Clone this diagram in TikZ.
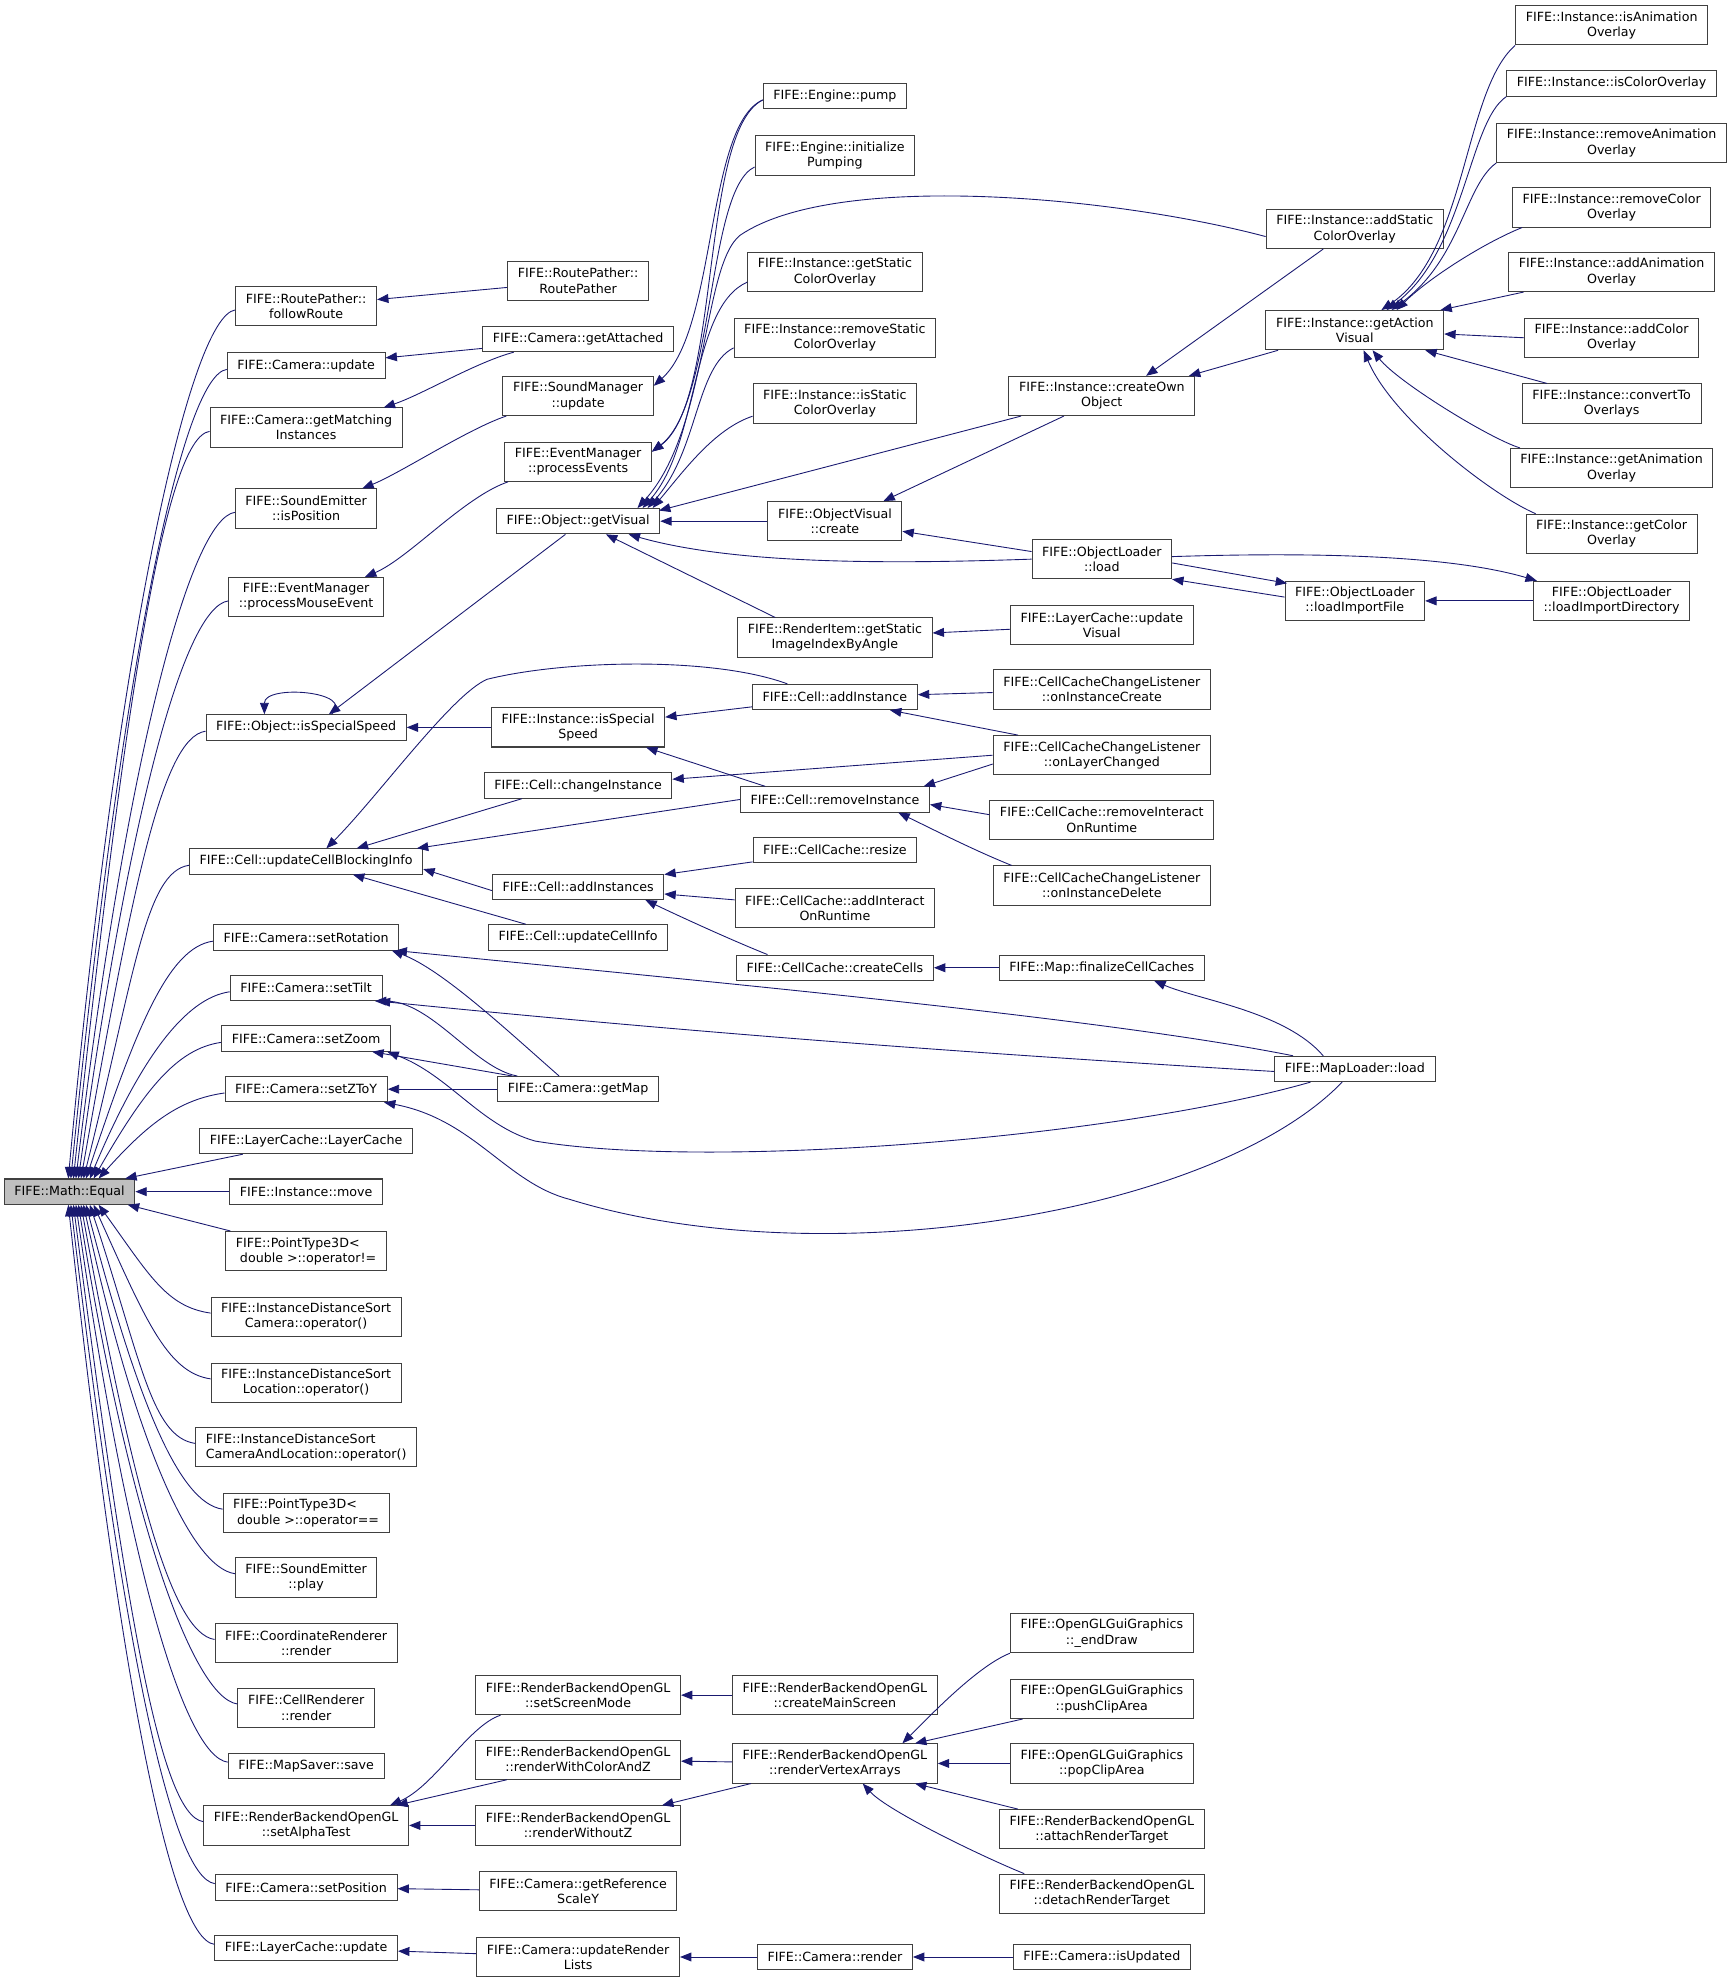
\documentclass[tikz,border=0pt]{standalone}
\usepackage{fontspec}
\setmainfont{DejaVu Sans}
\usetikzlibrary{arrows.meta}
\definecolor{edgeblue}{HTML}{191970}
\tikzset{
  fn/.style={draw=black!75, line width=0.8pt, fill=white, rectangle, inner xsep=8pt, inner ysep=3pt,
    minimum height=20pt, align=center, font=\fontsize{10}{12}\selectfont},
  tw/.style={fn, minimum height=31pt},
  twl/.style={tw, align=left},
  hl/.style={fn, fill=black!25},
  calledge/.style={draw=edgeblue, line width=0.7pt, -{Triangle[length=9pt,width=7pt]}},
}
\begin{document}
\begin{tikzpicture}[x=1pt,y=-1pt]
\useasboundingbox (0,0) rectangle (1370,1566);
% ---------- column 1
\node[hl] (Equal) at (55,942) {FIFE::Math::Equal};
% ---------- column 2
\node[tw] (followRoute) at (242,242) {FIFE::RoutePather::\\followRoute};
\node[fn] (camUpdate) at (242,289) {FIFE::Camera::update};
\node[tw] (getMatching) at (242,338) {FIFE::Camera::getMatching\\Instances};
\node[tw] (sePos) at (242,402) {FIFE::SoundEmitter\\::isPosition};
\node[tw] (emMouse) at (242,472) {FIFE::EventManager\\::processMouseEvent};
\node[fn] (isSpecialSpeed) at (242,575) {FIFE::Object::isSpecialSpeed};
\node[fn] (updateCellBlocking) at (242,681) {FIFE::Cell::updateCellBlockingInfo};
\node[fn] (setRotation) at (242,741) {FIFE::Camera::setRotation};
\node[fn] (setTilt) at (242,781) {FIFE::Camera::setTilt};
\node[fn] (setZoom) at (242,821) {FIFE::Camera::setZoom};
\node[fn] (setZToY) at (242,861) {FIFE::Camera::setZToY};
\node[fn] (layerCacheCtor) at (242,902) {FIFE::LayerCache::LayerCache};
\node[fn] (instMove) at (242,942) {FIFE::Instance::move};
\node[twl] (ptNe) at (242,989) {FIFE::PointType3D<\\\ double >::operator!=};
\node[tw] (idsCam) at (242,1041) {FIFE::InstanceDistanceSort\\Camera::operator()};
\node[tw] (idsLoc) at (242,1093) {FIFE::InstanceDistanceSort\\Location::operator()};
\node[twl] (idsCamLoc) at (242,1144) {FIFE::InstanceDistanceSort\\CameraAndLocation::operator()};
\node[twl] (ptEq) at (242,1196) {FIFE::PointType3D<\\\ double >::operator==};
\node[tw] (sePlay) at (242,1247) {FIFE::SoundEmitter\\::play};
\node[tw] (coordRender) at (242,1299) {FIFE::CoordinateRenderer\\::render};
\node[tw] (cellRender) at (242,1350) {FIFE::CellRenderer\\::render};
\node[fn] (mapSaver) at (242,1396) {FIFE::MapSaver::save};
\node[tw] (setAlphaTest) at (242,1443) {FIFE::RenderBackendOpenGL\\::setAlphaTest};
\node[fn] (setPosition) at (242,1492) {FIFE::Camera::setPosition};
\node[fn] (lcUpdate) at (242,1540) {FIFE::LayerCache::update};
% ---------- column 3
\node[tw] (routePather) at (457,222) {FIFE::RoutePather::\\RoutePather};
\node[fn] (getAttached) at (457,268) {FIFE::Camera::getAttached};
\node[tw] (smUpdate) at (457,313) {FIFE::SoundManager\\::update};
\node[tw] (emProcess) at (457,365) {FIFE::EventManager\\::processEvents};
\node[fn] (getVisual) at (457,412) {FIFE::Object::getVisual};
\node[tw] (instIsSpecial) at (457,575) {FIFE::Instance::isSpecial\\Speed};
\node[fn] (changeInst) at (457,621) {FIFE::Cell::changeInstance};
\node[fn] (addInstances) at (457,701) {FIFE::Cell::addInstances};
\node[fn] (updateCellInfo) at (457,741) {FIFE::Cell::updateCellInfo};
\node[fn] (getMap) at (457,861) {FIFE::Camera::getMap};
\node[tw] (setScreenMode) at (457,1340) {FIFE::RenderBackendOpenGL\\::setScreenMode};
\node[tw] (renderWithColorAndZ) at (457,1391) {FIFE::RenderBackendOpenGL\\::renderWithColorAndZ};
\node[tw] (renderWithoutZ) at (457,1443) {FIFE::RenderBackendOpenGL\\::renderWithoutZ};
\node[tw] (getRefScaleY) at (457,1495) {FIFE::Camera::getReference\\ScaleY};
\node[tw] (updateRenderLists) at (457,1547) {FIFE::Camera::updateRender\\Lists};
% ---------- column 4
\node[fn] (pump) at (660,76) {FIFE::Engine::pump};
\node[tw] (initPumping) at (660,123) {FIFE::Engine::initialize\\Pumping};
\node[tw] (getStatic) at (660,215) {FIFE::Instance::getStatic\\ColorOverlay};
\node[tw] (removeStatic) at (660,267) {FIFE::Instance::removeStatic\\ColorOverlay};
\node[tw] (isStatic) at (660,319) {FIFE::Instance::isStatic\\ColorOverlay};
\node[tw] (ovCreate) at (660,412) {FIFE::ObjectVisual\\::create};
\node[tw] (riGetStatic) at (660,504) {FIFE::RenderItem::getStatic\\ImageIndexByAngle};
\node[fn] (cellAddInstance) at (660,551) {FIFE::Cell::addInstance};
\node[fn] (cellRemoveInstance) at (660,632) {FIFE::Cell::removeInstance};
\node[fn] (ccResize) at (660,672) {FIFE::CellCache::resize};
\node[tw] (ccAddInteract) at (660,718) {FIFE::CellCache::addInteract\\OnRuntime};
\node[fn] (ccCreateCells) at (660,765) {FIFE::CellCache::createCells};
\node[tw] (createMainScreen) at (660,1340) {FIFE::RenderBackendOpenGL\\::createMainScreen};
\node[tw] (renderVertexArrays) at (660,1394) {FIFE::RenderBackendOpenGL\\::renderVertexArrays};
\node[fn] (camRender) at (660,1547) {FIFE::Camera::render};
% ---------- column 5
\node[tw] (createOwn) at (871,313) {FIFE::Instance::createOwn\\Object};
\node[tw] (olLoad) at (871,442) {FIFE::ObjectLoader\\::load};
\node[tw] (lcUpdateVisual) at (871,494) {FIFE::LayerCache::update\\Visual};
\node[tw] (cclCreate) at (871,545) {FIFE::CellCacheChangeListener\\::onInstanceCreate};
\node[tw] (cclLayer) at (871,597) {FIFE::CellCacheChangeListener\\::onLayerChanged};
\node[tw] (ccRemoveInteract) at (871,648) {FIFE::CellCache::removeInteract\\OnRuntime};
\node[tw] (cclDelete) at (871,700) {FIFE::CellCacheChangeListener\\::onInstanceDelete};
\node[fn] (finalize) at (871,765) {FIFE::Map::finalizeCellCaches};
\node[tw] (endDraw) at (871,1291) {FIFE::OpenGLGuiGraphics\\::\_endDraw};
\node[tw] (pushClip) at (871,1343) {FIFE::OpenGLGuiGraphics\\::pushClipArea};
\node[tw] (popClip) at (871,1394) {FIFE::OpenGLGuiGraphics\\::popClipArea};
\node[tw] (attachRT) at (871,1446) {FIFE::RenderBackendOpenGL\\::attachRenderTarget};
\node[tw] (detachRT) at (871,1497) {FIFE::RenderBackendOpenGL\\::detachRenderTarget};
\node[fn] (isUpdated) at (871,1547) {FIFE::Camera::isUpdated};
% ---------- column 6
\node[tw] (addStatic) at (1071,181) {FIFE::Instance::addStatic\\ColorOverlay};
\node[tw] (getActionVisual) at (1071,261) {FIFE::Instance::getAction\\Visual};
\node[tw] (olLoadImportFile) at (1071,475) {FIFE::ObjectLoader\\::loadImportFile};
\node[fn] (mapLoaderLoad) at (1071,845) {FIFE::MapLoader::load};
% ---------- column 7
\node[tw] (isAnimOverlay) at (1274,20) {FIFE::Instance::isAnimation\\Overlay};
\node[fn] (isColorOverlay) at (1274,66) {FIFE::Instance::isColorOverlay};
\node[tw] (removeAnimOverlay) at (1274,113) {FIFE::Instance::removeAnimation\\Overlay};
\node[tw] (removeColorOverlay) at (1274,164) {FIFE::Instance::removeColor\\Overlay};
\node[tw] (addAnimOverlay) at (1274,215) {FIFE::Instance::addAnimation\\Overlay};
\node[tw] (addColorOverlay) at (1274,267) {FIFE::Instance::addColor\\Overlay};
\node[tw] (convertTo) at (1274,319) {FIFE::Instance::convertTo\\Overlays};
\node[tw] (getAnimOverlay) at (1274,370) {FIFE::Instance::getAnimation\\Overlay};
\node[tw] (getColorOverlay) at (1274,422) {FIFE::Instance::getColor\\Overlay};
\node[tw] (olLoadImportDir) at (1274,475) {FIFE::ObjectLoader\\::loadImportDirectory};

% ================= edges into Equal
\foreach \n/\o/\d in {followRoute/-1/690, camUpdate/1/643, getMatching/3/594, sePos/5/530,
  emMouse/7/460, isSpecialSpeed/9/357, updateCellBlocking/11/251, setRotation/13/191,
  setTilt/16/151, setZoom/19/111, setZToY/23/71}
  {\draw[calledge] ([yshift=-3pt]\n.west) .. controls +(-35,5) and +(40,-0.63*\d) .. ([xshift=\o pt]Equal.north);}
\foreach \n/\o/\d in {idsCam/23/88, idsLoc/19/140, idsCamLoc/16/191, ptEq/13/243, sePlay/11/294,
  coordRender/9/346, cellRender/7/397, mapSaver/5/443, setAlphaTest/3/490, setPosition/1/539, lcUpdate/-1/587}
  {\draw[calledge] ([yshift=3pt]\n.west) .. controls +(-35,-5) and +(40,0.63*\d) .. ([xshift=\o pt]Equal.south);}
\draw[calledge] ([xshift=-50pt]layerCacheCtor.south) -- ([xshift=-8pt]Equal.north east);
\draw[calledge] (instMove) -- (Equal);
\draw[calledge] ([xshift=4pt]ptNe.north west) -- ([xshift=-6pt]Equal.south east);

% ================= upper-left group
\draw[calledge] (routePather) -- (followRoute);
\draw[calledge] (getAttached) -- (camUpdate);
\draw[calledge] ([xshift=25pt]getAttached.south west) .. controls +(-30,8) and +(30,-10) .. ([xshift=-15pt]getMatching.north east);
\draw[calledge] ([xshift=3pt]smUpdate.south west) .. controls +(-30,10) and +(30,-12) .. ([xshift=-12pt]sePos.north east);
\draw[calledge] ([xshift=3pt]emProcess.south west) .. controls +(-35,12) and +(35,-15) .. ([xshift=-15pt]emMouse.north east);
\draw[calledge] ([yshift=-3pt]pump.west) .. controls +(-45,20) and +(50,-45) .. ([yshift=8pt]smUpdate.east);
\draw[calledge] ([yshift=-3pt]pump.west) .. controls +(-50,25) and +(55,-40) .. ([yshift=8pt]emProcess.east);
\draw[calledge] ([yshift=-9pt]initPumping.west) .. controls +(-38,18) and +(50,-38) .. ([yshift=8pt]emProcess.east);

% ================= getVisual group
\draw[calledge] ([yshift=-8pt]getStatic.west) .. controls +(-45,20) and +(45,-50) .. ([xshift=-14pt]getVisual.north east);
\draw[calledge] ([yshift=-8pt]removeStatic.west) .. controls +(-30,15) and +(40,-45) .. ([xshift=-10pt]getVisual.north east);
\draw[calledge] ([yshift=-10pt]isStatic.west) .. controls +(-30,10) and +(25,-30) .. ([xshift=-6pt]getVisual.north east);
\draw[calledge] ([yshift=-6pt]addStatic.west) .. controls (880,155) and (660,135) .. (585,186)
  .. controls (555,210) and (560,340) .. ([xshift=-18pt]getVisual.north east);
\draw[calledge] ([xshift=10pt]createOwn.south west) -- ([xshift=-1pt,yshift=-2pt]getVisual.north east);
\draw[calledge] (ovCreate) -- (getVisual);
\draw[calledge] (olLoad.west) .. controls (700,446) and (580,446) .. ([xshift=-25pt]getVisual.south east);
\draw[calledge] ([xshift=30pt]riGetStatic.north west) -- ([xshift=22pt]getVisual.south);
\draw[calledge] ([xshift=-10pt]getVisual.south) -- ([xshift=18pt]isSpecialSpeed.north);
\draw[calledge] ([xshift=20pt]isSpecialSpeed.north) .. controls +(20,-18) and +(0,-24) .. ([xshift=-33pt]isSpecialSpeed.north);
\draw[calledge] (instIsSpecial) -- (isSpecialSpeed);

% ================= cell group
\draw[calledge] ([xshift=28pt]cellAddInstance.north west) .. controls +(-60,-22) and +(60,-15) .. (385,537)
  .. controls +(-28,12) and +(40,-40) .. ([xshift=16pt]updateCellBlocking.north);
\draw[calledge] ([xshift=30pt]changeInst.south west) -- ([xshift=40pt]updateCellBlocking.north);
\draw[calledge] (cellRemoveInstance.west) -- ([xshift=-5pt]updateCellBlocking.north east);
\draw[calledge] ([yshift=-3pt]addInstances.west) -- ([yshift=-6pt]updateCellBlocking.east);
\draw[calledge] ([xshift=30pt]updateCellInfo.north west) -- ([xshift=37pt]updateCellBlocking.south);
\draw[calledge] (cellAddInstance) -- (instIsSpecial);
\draw[calledge] ([xshift=20pt]cellRemoveInstance.north west) -- ([xshift=-15pt]instIsSpecial.south east);
\draw[calledge] (cclLayer.west) -- ([yshift=5pt]changeInst.east);
\draw[calledge] (cclCreate) -- (cellAddInstance);
\draw[calledge] ([xshift=20pt]cclLayer.north west) -- ([xshift=-22pt]cellAddInstance.south east);
\draw[calledge] ([yshift=-7pt]cclLayer.west) -- ([xshift=-5pt]cellRemoveInstance.north east);
\draw[calledge] ([yshift=4pt]ccRemoveInteract.west) -- ([yshift=-4pt]cellRemoveInstance.east);
\draw[calledge] ([xshift=15pt]cclDelete.north west) .. controls +(-30,-12) and +(25,12) .. ([xshift=-25pt]cellRemoveInstance.south east);
\draw[calledge] (ccResize) -- (addInstances);
\draw[calledge] (ccAddInteract) -- (addInstances);
\draw[calledge] ([xshift=25pt]ccCreateCells.north west) .. controls +(-30,-12) and +(25,12) .. ([xshift=-15pt]addInstances.south east);
\draw[calledge] (finalize) -- (ccCreateCells);
\draw[calledge] ([xshift=-25pt]mapLoaderLoad.north) .. controls +(-30,-35) and +(35,15) .. ([xshift=-40pt]finalize.south east);

% ================= camera group
\draw[calledge] ([xshift=15pt]mapLoaderLoad.north west) .. controls +(-150,-30) and +(250,25) .. ([xshift=-3pt]setRotation.south east);
\draw[calledge] ([yshift=-2pt]mapLoaderLoad.west) .. controls +(-250,-15) and +(250,25) .. ([xshift=-3pt]setTilt.south east);
\draw[calledge] ([xshift=-35pt]mapLoaderLoad.south) .. controls (880,900) and (560,925) .. (423,902)
  .. controls (380,890) and (355,850) .. ([xshift=-3pt]setZoom.south east);
\draw[calledge] ([xshift=-10pt]mapLoaderLoad.south) .. controls (960,960) and (650,1010) .. (450,948)
  .. controls (400,935) and (375,885) .. ([xshift=-3pt]setZToY.south east);
\draw[calledge] ([xshift=-15pt]getMap.north) .. controls +(-40,-35) and +(40,15) .. ([xshift=-6pt]setRotation.south east);
\draw[calledge] ([xshift=-48pt]getMap.north) .. controls +(-34,-6) and +(45,0) .. ([xshift=-6pt]setTilt.south east);
\draw[calledge] ([xshift=12pt]getMap.north west) -- ([xshift=-15pt]setZoom.south east);
\draw[calledge] (getMap) -- (setZToY);

% ================= object / instance group
\draw[calledge] ([xshift=-25pt]addStatic.south) -- ([xshift=35pt]createOwn.north);
\draw[calledge] ([xshift=10pt]getActionVisual.south west) -- ([xshift=-5pt]createOwn.north east);
\draw[calledge] ([xshift=-30pt]createOwn.south) -- ([xshift=-15pt]ovCreate.north east);
\draw[calledge] ([yshift=6pt]olLoad.west) -- ([yshift=-8pt]ovCreate.east);
\draw[calledge] (isAnimOverlay.south west) .. controls +(-41,36) and +(68,-46) .. ([xshift=21pt]getActionVisual.north);
\draw[calledge] (isColorOverlay.south west) .. controls +(-30,20) and +(62,-46) .. ([xshift=25pt]getActionVisual.north);
\draw[calledge] (removeAnimOverlay.south west) .. controls +(-25,18) and +(55,-40) .. ([xshift=29pt]getActionVisual.north);
\draw[calledge] ([xshift=8pt]removeColorOverlay.south west) .. controls +(-30,12) and +(25,-25) .. ([xshift=33pt]getActionVisual.north);
\draw[calledge] ([xshift=12pt]addAnimOverlay.south west) -- ([xshift=-3pt]getActionVisual.north east);
\draw[calledge] (addColorOverlay.west) -- ([yshift=-3pt]getActionVisual.east);
\draw[calledge] ([xshift=20pt]convertTo.north west) -- ([xshift=-15pt]getActionVisual.south east);
\draw[calledge] ([xshift=8pt]getAnimOverlay.north west) .. controls +(-25,-8) and +(20,25) .. ([xshift=14pt]getActionVisual.south);
\draw[calledge] ([xshift=8pt]getColorOverlay.north west) .. controls +(-35,-15) and +(22,53) .. ([xshift=7pt]getActionVisual.south);
\draw[calledge] ([yshift=-3pt]olLoad.east) -- ([xshift=2pt,yshift=-2pt]olLoadImportFile.north west);
\draw[calledge] ([yshift=3pt]olLoadImportFile.west) -- (olLoad.south east);
\draw[calledge] ([yshift=2pt]olLoad.east) .. controls (1050,436) and (1150,440) .. ([xshift=3pt]olLoadImportDir.north west);
\draw[calledge] (olLoadImportDir) -- (olLoadImportFile);
\draw[calledge] (lcUpdateVisual) -- (riGetStatic);

% ================= render group
\draw[calledge] ([xshift=20pt]setScreenMode.south west) .. controls +(-25,8) and +(35,-15) .. ([xshift=-15pt]setAlphaTest.north east);
\draw[calledge] ([xshift=25pt]renderWithColorAndZ.south west) -- ([xshift=-10pt]setAlphaTest.north east);
\draw[calledge] (renderWithoutZ) -- (setAlphaTest);
\draw[calledge] (createMainScreen) -- (setScreenMode);
\draw[calledge] (renderVertexArrays) -- (renderWithColorAndZ);
\draw[calledge] ([xshift=15pt]renderVertexArrays.south west) -- ([xshift=-15pt]renderWithoutZ.north east);
\draw[calledge] (endDraw.south west) .. controls +(-25,10) and +(25,-25) .. ([xshift=-28pt]renderVertexArrays.north east);
\draw[calledge] ([xshift=10pt]pushClip.south west) -- ([xshift=-18pt]renderVertexArrays.north east);
\draw[calledge] (popClip) -- (renderVertexArrays);
\draw[calledge] ([xshift=15pt]attachRT.north west) -- ([xshift=-18pt]renderVertexArrays.south east);
\draw[calledge] ([xshift=20pt]detachRT.north west) .. controls +(-30,-12) and +(20,22) .. ([xshift=22pt]renderVertexArrays.south);
\draw[calledge] (getRefScaleY) -- (setPosition);
\draw[calledge] (updateRenderLists) -- (lcUpdate);
\draw[calledge] (camRender) -- (updateRenderLists);
\draw[calledge] (isUpdated) -- (camRender);
\end{tikzpicture}
\end{document}
